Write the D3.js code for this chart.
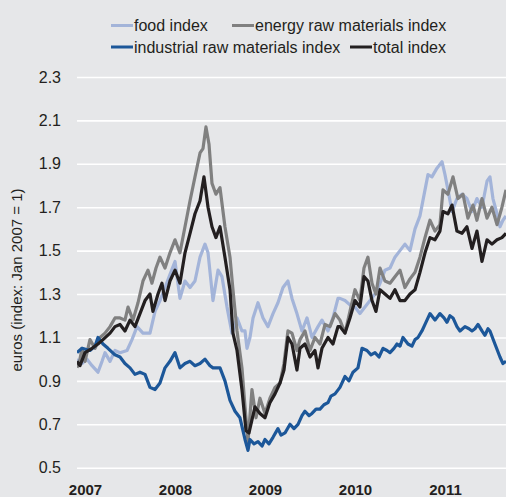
<!DOCTYPE html>
<html><head><meta charset="utf-8">
<script src="https://cdn.jsdelivr.net/npm/d3@7"></script>
<style>
html,body{margin:0;padding:0;background:#e6e7e9;}
svg{display:block;font-family:"Liberation Sans",Arial,Helvetica,sans-serif;}
</style></head>
<body>
<svg id="chart" width="506" height="497"></svg>
<script>
// ---- data (decimal year, index value; Jan 2007 = 1) ----
const yearTicks = [2007, 2008, 2009, 2010, 2011];
const valueTicks = [0.5, 0.7, 0.9, 1.1, 1.3, 1.5, 1.7, 1.9, 2.1, 2.3];
const seriesNames = ["food index", "energy raw materials index", "industrial raw materials index", "total index"];

const foodIndex = [
 [2007.000,1.00],[2007.056,0.98],[2007.111,1.00],[2007.167,0.97],[2007.233,0.94],[2007.278,0.99],[2007.311,1.03],
 [2007.367,0.99],[2007.422,1.04],[2007.478,1.03],[2007.556,1.04],[2007.611,1.09],[2007.667,1.15],[2007.733,1.12],
 [2007.811,1.12],[2007.867,1.22],[2007.922,1.27],[2007.978,1.33],[2008.033,1.39],[2008.089,1.45],[2008.144,1.28],
 [2008.200,1.36],[2008.256,1.33],[2008.311,1.36],[2008.367,1.47],[2008.422,1.53],[2008.456,1.49],[2008.511,1.27],
 [2008.567,1.41],[2008.611,1.38],[2008.667,1.24],[2008.722,1.12],[2008.778,1.19],[2008.833,1.13],[2008.867,1.13],
 [2008.889,1.05],[2008.922,1.10],[2008.956,1.19],[2009.011,1.26],[2009.067,1.19],[2009.122,1.15],[2009.178,1.21],
 [2009.233,1.26],[2009.289,1.33],[2009.344,1.36],[2009.389,1.28],[2009.444,1.21],[2009.500,1.13],[2009.556,1.19],
 [2009.611,1.10],[2009.678,1.15],[2009.722,1.18],[2009.789,1.13],[2009.844,1.19],[2009.900,1.28],[2009.922,1.28],
 [2009.978,1.27],[2010.033,1.25],[2010.089,1.24],[2010.144,1.21],[2010.200,1.24],[2010.256,1.27],[2010.311,1.30],
 [2010.367,1.35],[2010.422,1.41],[2010.478,1.42],[2010.533,1.47],[2010.589,1.50],[2010.644,1.53],[2010.700,1.50],
 [2010.756,1.60],[2010.811,1.66],[2010.867,1.78],[2010.900,1.85],[2010.944,1.84],[2011.000,1.88],[2011.056,1.91],
 [2011.089,1.85],[2011.122,1.78],[2011.167,1.68],[2011.222,1.74],[2011.278,1.76],[2011.333,1.74],[2011.389,1.68],
 [2011.444,1.74],[2011.500,1.70],[2011.556,1.82],[2011.589,1.84],[2011.622,1.74],[2011.667,1.67],[2011.700,1.61],
 [2011.733,1.64],[2011.767,1.66]
];

const energyIndex = [
 [2007.000,0.96],[2007.033,1.00],[2007.056,1.05],[2007.089,0.99],[2007.144,1.09],[2007.200,1.05],[2007.256,1.10],
 [2007.311,1.12],[2007.367,1.15],[2007.422,1.19],[2007.478,1.19],[2007.533,1.18],[2007.567,1.24],[2007.622,1.18],
 [2007.678,1.26],[2007.733,1.36],[2007.789,1.41],[2007.833,1.35],[2007.878,1.42],[2007.922,1.47],[2007.978,1.42],
 [2008.033,1.49],[2008.089,1.55],[2008.144,1.49],[2008.200,1.61],[2008.256,1.73],[2008.311,1.84],[2008.367,1.95],
 [2008.400,1.97],[2008.433,2.07],[2008.467,1.99],[2008.500,1.81],[2008.544,1.76],[2008.589,1.79],[2008.644,1.61],
 [2008.700,1.47],[2008.733,1.32],[2008.778,1.13],[2008.833,0.96],[2008.867,0.78],[2008.900,0.62],[2008.944,0.86],
 [2008.989,0.73],[2009.033,0.82],[2009.089,0.75],[2009.144,0.82],[2009.200,0.87],[2009.256,0.89],[2009.300,0.98],
 [2009.344,1.13],[2009.389,1.12],[2009.444,1.04],[2009.478,1.09],[2009.533,1.13],[2009.589,1.04],[2009.644,1.10],
 [2009.700,1.07],[2009.756,1.16],[2009.811,1.15],[2009.867,1.21],[2009.922,1.18],[2009.978,1.12],[2010.033,1.22],
 [2010.089,1.32],[2010.144,1.27],[2010.189,1.42],[2010.233,1.47],[2010.278,1.35],[2010.322,1.30],[2010.367,1.42],
 [2010.422,1.36],[2010.478,1.35],[2010.533,1.38],[2010.589,1.41],[2010.644,1.33],[2010.700,1.37],[2010.756,1.40],
 [2010.811,1.47],[2010.867,1.56],[2010.922,1.64],[2010.978,1.59],[2011.033,1.62],[2011.067,1.78],[2011.122,1.76],
 [2011.178,1.84],[2011.233,1.74],[2011.289,1.76],[2011.344,1.65],[2011.400,1.71],[2011.444,1.64],[2011.500,1.74],
 [2011.556,1.65],[2011.611,1.70],[2011.667,1.62],[2011.722,1.70],[2011.767,1.78]
];

const industrialIndex = [
 [2007.000,1.03],[2007.056,1.05],[2007.144,1.04],[2007.200,1.06],[2007.233,1.10],[2007.289,1.07],[2007.344,1.05],
 [2007.422,1.02],[2007.478,1.01],[2007.533,0.98],[2007.589,0.96],[2007.644,0.93],[2007.700,0.94],[2007.756,0.93],
 [2007.811,0.87],[2007.867,0.86],[2007.922,0.89],[2007.978,0.96],[2008.033,0.99],[2008.089,1.03],[2008.144,0.96],
 [2008.200,0.98],[2008.256,0.99],[2008.311,0.97],[2008.367,0.98],[2008.422,1.00],[2008.478,0.97],[2008.511,0.96],
 [2008.589,0.96],[2008.644,0.90],[2008.700,0.81],[2008.756,0.76],[2008.811,0.73],[2008.867,0.63],[2008.900,0.58],
 [2008.922,0.63],[2008.967,0.61],[2009.011,0.62],[2009.056,0.60],[2009.089,0.63],[2009.133,0.61],[2009.178,0.64],
 [2009.233,0.68],[2009.267,0.65],[2009.311,0.66],[2009.367,0.70],[2009.411,0.68],[2009.456,0.70],[2009.500,0.74],
 [2009.533,0.76],[2009.578,0.74],[2009.611,0.75],[2009.656,0.77],[2009.700,0.77],[2009.744,0.79],[2009.789,0.80],
 [2009.822,0.83],[2009.867,0.84],[2009.922,0.87],[2009.978,0.92],[2010.022,0.90],[2010.067,0.94],[2010.122,0.96],
 [2010.167,1.05],[2010.222,1.04],[2010.267,1.02],[2010.311,1.03],[2010.356,1.01],[2010.400,1.05],[2010.444,1.04],
 [2010.478,1.03],[2010.522,1.05],[2010.556,1.07],[2010.589,1.06],[2010.622,1.10],[2010.678,1.07],[2010.722,1.06],
 [2010.756,1.09],[2010.789,1.10],[2010.833,1.13],[2010.867,1.16],[2010.922,1.21],[2010.978,1.18],[2011.033,1.21],
 [2011.078,1.19],[2011.111,1.17],[2011.144,1.20],[2011.178,1.19],[2011.222,1.15],[2011.256,1.13],[2011.311,1.15],
 [2011.356,1.14],[2011.389,1.13],[2011.422,1.14],[2011.456,1.16],[2011.500,1.13],[2011.533,1.11],[2011.567,1.14],
 [2011.589,1.13],[2011.644,1.07],[2011.700,1.01],[2011.733,0.98],[2011.767,0.99]
];

const totalIndex = [
 [2007.000,0.99],[2007.033,0.97],[2007.089,1.03],[2007.167,1.05],[2007.233,1.07],[2007.289,1.09],[2007.367,1.12],
 [2007.422,1.15],[2007.478,1.16],[2007.533,1.13],[2007.589,1.18],[2007.644,1.15],[2007.700,1.21],[2007.756,1.27],
 [2007.811,1.30],[2007.844,1.22],[2007.900,1.30],[2007.944,1.35],[2007.978,1.27],[2008.033,1.36],[2008.089,1.41],
 [2008.144,1.35],[2008.200,1.49],[2008.256,1.58],[2008.311,1.67],[2008.367,1.73],[2008.411,1.84],[2008.456,1.70],
 [2008.500,1.61],[2008.544,1.56],[2008.589,1.61],[2008.644,1.47],[2008.700,1.32],[2008.733,1.12],[2008.778,1.04],
 [2008.833,0.86],[2008.878,0.67],[2008.911,0.66],[2008.944,0.72],[2008.978,0.78],[2009.033,0.75],[2009.089,0.73],
 [2009.144,0.80],[2009.200,0.84],[2009.256,0.89],[2009.300,0.95],[2009.344,1.10],[2009.389,1.07],[2009.444,0.95],
 [2009.478,1.05],[2009.533,1.07],[2009.589,1.01],[2009.644,1.04],[2009.678,0.96],[2009.722,1.05],[2009.789,1.10],
 [2009.844,1.07],[2009.900,1.15],[2009.922,1.15],[2009.978,1.12],[2010.033,1.19],[2010.089,1.27],[2010.144,1.24],
 [2010.189,1.38],[2010.233,1.36],[2010.278,1.27],[2010.322,1.22],[2010.367,1.32],[2010.422,1.30],[2010.478,1.28],
 [2010.533,1.32],[2010.589,1.27],[2010.644,1.27],[2010.700,1.30],[2010.756,1.32],[2010.811,1.40],[2010.867,1.49],
 [2010.922,1.56],[2010.978,1.55],[2011.033,1.59],[2011.067,1.68],[2011.122,1.67],[2011.167,1.71],[2011.222,1.59],
 [2011.278,1.58],[2011.333,1.61],[2011.389,1.51],[2011.444,1.59],[2011.500,1.45],[2011.556,1.55],[2011.611,1.53],
 [2011.667,1.55],[2011.722,1.56],[2011.767,1.58]
];

const colors = ["#a3b4d9", "#808080", "#1c5799", "#231f20"];

// ---- drawing ----
const svg = d3.select("#chart");
const W = 506, H = 497;
const plotLeft = 77, plotRight = 506, plotTop = 77, plotBottom = 467.7;

svg.append("rect").attr("width", W).attr("height", H).attr("fill", "#e6e7e9");

const x = d3.scaleLinear().domain([2007, 2011.767]).range([plotLeft, plotRight]);
const y = d3.scaleLinear().domain([0.5, 2.3]).range([plotBottom, plotTop]);

// gridlines + y labels
const yAxis = d3.axisLeft(y).tickValues(valueTicks).tickSize(-(plotRight - plotLeft)).tickPadding(16)
  .tickFormat(d3.format(".1f"));
const gy = svg.append("g").attr("transform", `translate(${plotLeft},0)`).call(yAxis);
gy.select(".domain").remove();
gy.selectAll(".tick line").attr("stroke", "#ffffff").attr("stroke-width", 1.6);
gy.selectAll(".tick text").attr("fill", "#231f20").style("font-size", "16px")
  .style("font-family", '"Liberation Sans",Arial,sans-serif');

// x labels
const xAxis = d3.axisBottom(x).tickValues(yearTicks).tickSize(0).tickPadding(0).tickFormat(d3.format("d"));
const gx = svg.append("g").attr("transform", `translate(8,${plotBottom})`).call(xAxis);
gx.select(".domain").remove();
gx.selectAll(".tick text").attr("fill", "#231f20").attr("dy", null).attr("y", 27)
  .style("font-size", "15px").style("font-weight", "bold")
  .style("font-family", '"Liberation Sans",Arial,sans-serif');

// y title
svg.append("text")
  .attr("transform", `translate(22,280) rotate(-90)`)
  .attr("text-anchor", "middle")
  .attr("fill", "#231f20")
  .style("font-size", "15px")
  .text("euros (index: Jan 2007 = 1)");

// clip
svg.append("clipPath").attr("id", "clip").append("rect")
  .attr("x", plotLeft).attr("y", 0).attr("width", plotRight - plotLeft).attr("height", H);

const line = d3.line().x(d => x(d[0])).y(d => y(d[1]));
const seriesData = [foodIndex, energyIndex, industrialIndex, totalIndex];
const gl = svg.append("g").attr("clip-path", "url(#clip)");
seriesData.forEach((s, i) => {
  gl.append("path").datum(s).attr("d", line)
    .attr("fill", "none").attr("stroke", colors[i]).attr("stroke-width", 3.2)
    .attr("stroke-linejoin", "round");
});

// legend
const legendItems = [
  {name: seriesNames[0], color: colors[0], lx: 111, ly: 25.5},
  {name: seriesNames[1], color: colors[1], lx: 232, ly: 25.5},
  {name: seriesNames[2], color: colors[2], lx: 111, ly: 47},
  {name: seriesNames[3], color: colors[3], lx: 350, ly: 47}
];
const lg = svg.append("g");
legendItems.forEach(it => {
  lg.append("line").attr("x1", it.lx).attr("x2", it.lx + 22).attr("y1", it.ly).attr("y2", it.ly)
    .attr("stroke", it.color).attr("stroke-width", 3);
  lg.append("text").attr("x", it.lx + 23).attr("y", it.ly + 5.8).attr("fill", "#231f20")
    .style("font-size", "16px").text(it.name);
});
</script>
</body></html>
